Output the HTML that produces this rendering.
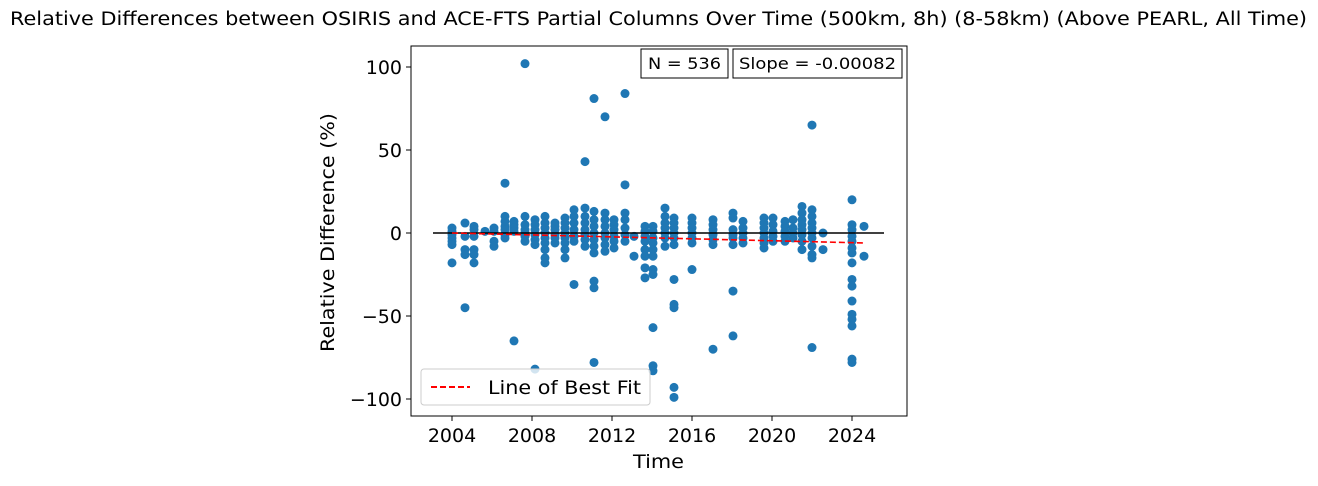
<!DOCTYPE html>
<html><head><meta charset="utf-8"><style>
body{margin:0;background:#fff;}
svg text{font-family:"DejaVu Sans","Liberation Sans",sans-serif;}
</style></head><body>
<svg id="chart" width="1318" height="481" xmlns="http://www.w3.org/2000/svg">
<text x="10" y="25" font-size="18.5" textLength="1297" lengthAdjust="spacingAndGlyphs">Relative Differences between OSIRIS and ACE-FTS Partial Columns Over Time (500km, 8h) (8-58km) (Above PEARL, All Time)</text>
<g id="marks"></g>
<rect x="411" y="46" width="496" height="370" fill="none" stroke="#000" stroke-width="1"/>
<g id="ticks"></g>
<text x="633" y="468" font-size="19" textLength="51" lengthAdjust="spacingAndGlyphs">Time</text>
<text transform="translate(334,352) rotate(-90)" font-size="19" textLength="239" lengthAdjust="spacingAndGlyphs">Relative Difference (%)</text>
<g><rect x="641" y="49" width="87" height="29" fill="#fff" stroke="#000"/><text x="648" y="69" font-size="16" textLength="73" lengthAdjust="spacingAndGlyphs">N = 536</text></g>
<g><rect x="733" y="49" width="169" height="29" fill="#fff" stroke="#000"/><text x="739" y="69" font-size="16" textLength="157" lengthAdjust="spacingAndGlyphs">Slope = -0.00082</text></g>
<g><rect x="421" y="369" width="229" height="36" rx="3" fill="#fff" fill-opacity="0.8" stroke="#ccc"/><line x1="431" y1="387" x2="470" y2="387" stroke="red" stroke-width="2" stroke-dasharray="6,3"/><text x="488" y="394" font-size="19" textLength="153" lengthAdjust="spacingAndGlyphs">Line of Best Fit</text></g>
</svg>
<script>
const years=[2004.0,2004.65,2005.1,2005.65,2006.1,2006.65,2007.1,2007.65,2008.15,2008.65,2009.15,2009.65,2010.1,2010.65,2011.1,2011.65,2012.1,2012.65,2013.1,2013.65,2014.05,2014.65,2015.1,2016.0,2017.05,2018.05,2018.55,2019.6,2020.05,2020.65,2021.05,2021.5,2022.0,2022.55,2024.0,2024.6];
const values=[[3,1,-1,-3,-5,-7,-18],[6,-2,-10,-13,-45],[4,2,-2,-10,-13,-18],[1],[3,1,-5,-8],[30,10,7,4,2,-1,-3],[7,5,3,1,-65],[102,10,5,2,0,-2,-5],[8,5,2,-1,-4,-7,-82],[10,6,3,0,-3,-6,-10,-15,-18],[6,4,2,-1,-3,-6],[9,6,3,0,-3,-6,-10,-15],[14,10,6,2,-2,-5,-31],[43,15,10,6,2,-1,-4,-8],[81,13,8,4,0,-4,-8,-12,-29,-33,-78],[70,12,8,4,0,-3,-7,-11],[8,5,2,-2,-5,-9],[84,29,12,8,3,-1,-5],[-2,-14],[4,1,-2,-5,-10,-14,-21,-27],[4,1,-3,-6,-10,-14,-22,-25,-57,-80,-83],[15,10,6,3,0,-3,-8],[9,6,3,0,-3,-7,-28,-43,-45,-93,-99],[9,6,3,0,-3,-6,-22],[8,5,2,-1,-4,-7,-70],[12,9,2,-1,-3,-7,-35,-62],[7,3,0,-3,-6],[9,6,3,0,-3,-6,-9],[9,5,1,-2,-5],[7,4,1,-2,-5],[8,3,0,-3],[16,12,8,5,2,-1,-5,-10],[65,14,10,6,3,0,-3,-8,-13,-15,-69],[0,-10],[20,5,2,-2,-5,-9,-12,-18,-28,-32,-41,-49,-52,-56,-76,-78],[4,-14]];
const fitYears=[2004.0,2024.6];
const fitValues=[0,-6];
const zeroYears=[2003.05,2025.6];
const xTicks=[2004,2008,2012,2016,2020,2024];
const yTicks=[100,50,0,-50,-100];
const yTickLabels=["100","50","0","\u221250","\u2212100"];
const X=y=>452+(y-2004)*20;
const Y=v=>233-v*1.66;
const NS="http://www.w3.org/2000/svg";
const marks=document.getElementById('marks');
const ticks=document.getElementById('ticks');
function mk(tag,attrs,parent){const e=document.createElementNS(NS,tag);for(const k in attrs)e.setAttribute(k,attrs[k]);parent.appendChild(e);return e;}
years.forEach((yr,i)=>{values[i].forEach(v=>{
 const c=mk('circle',{cx:X(yr),cy:Y(v),r:4.5,fill:'#1f77b4'},marks);
 
 
});});
const zl=mk('line',{x1:X(zeroYears[0]),x2:X(zeroYears[1]),y1:Y(0),y2:Y(0),stroke:'#000','stroke-width':1.6},marks);


const fl=mk('line',{x1:X(fitYears[0]),x2:X(fitYears[1]),y1:Y(fitValues[0]),y2:Y(fitValues[1]),stroke:'red','stroke-width':1.6,'stroke-dasharray':'6,3'},marks);


xTicks.forEach(t=>{
 const l=mk('line',{x1:X(t),x2:X(t),y1:416,y2:421,stroke:'#000'},ticks);
 
 
 const tx=mk('text',{x:X(t),y:442,'text-anchor':'middle','font-size':'19'},ticks);
 
 
 tx.textContent=t;
});
yTicks.forEach((t,i)=>{
 const l=mk('line',{x1:406,x2:411,y1:Y(t),y2:Y(t),stroke:'#000'},ticks);
 
 
 const tx=mk('text',{x:402,y:Y(t)+7,'text-anchor':'end','font-size':'19'},ticks);
 
 
 tx.textContent=yTickLabels[i];
});
</script>
</body></html>
